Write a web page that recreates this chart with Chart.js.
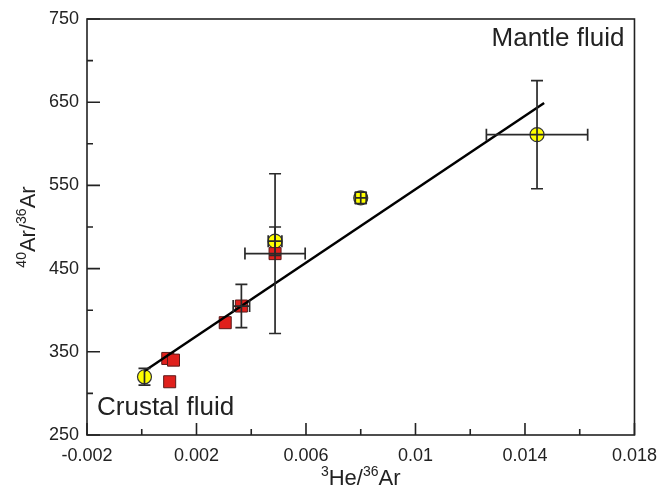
<!DOCTYPE html>
<html>
<head>
<meta charset="utf-8">
<script src="https://cdn.jsdelivr.net/npm/chart.js@4.4.1/dist/chart.umd.min.js"></script>
<style>
  html, body { margin: 0; padding: 0; background: #fff; }
</style>
</head>
<body>
<canvas id="chart" width="667" height="490"></canvas>
<script>
// axis ticks
const xTicks = [-0.002, 0.002, 0.006, 0.01, 0.014, 0.018];
const xMinor = [0, 0.004, 0.008, 0.012, 0.016];
const yTicks = [250, 350, 450, 550, 650, 750];
const yMinor = [300, 400, 500, 600, 700];

// red squares
const crustX = [0.00095, 0.00116, 0.00102, 0.00305, 0.00364, 0.00487];
const crustY = [342, 340, 314, 385, 405, 468];
const crustXErr = [0, 0, 0, 0, 0.0003, 0.0011];
const crustYErr = [0, 0, 0, 0, 26, 96];

// yellow circles
const mantleX = [0.0001, 0.00487, 0.008, 0.01444];
const mantleY = [320, 483, 535, 611];
const mantleXErr = [0, 0.00025, 0.0002, 0.00185];
const mantleYErr = [10, 17, 7, 65];

// fitted line
const fitX = [0.0001, 0.0147];
const fitY = [327, 649];

const FONT = "'Liberation Sans', Arial, sans-serif";

function toPoints(xs, ys) {
  return xs.map((x, i) => ({ x: x, y: ys[i] }));
}

function drawRich(ctx, parts, x, y, size) {
  const supSize = Math.round(size * 0.62);
  let total = 0;
  parts.forEach(p => {
    ctx.font = (p.sup ? supSize : size) + "px " + FONT;
    p.w = ctx.measureText(p.t).width;
    total += p.w;
  });
  let cx = x - total / 2;
  ctx.textAlign = "left";
  ctx.textBaseline = "alphabetic";
  parts.forEach(p => {
    ctx.font = (p.sup ? supSize : size) + "px " + FONT;
    ctx.fillText(p.t, cx, p.sup ? y - size * 0.42 : y);
    cx += p.w;
  });
}

const errorBars = {
  id: "errorBars",
  afterDatasetsDraw(chart) {
    const ctx = chart.ctx;
    const xs = chart.scales.x, ys = chart.scales.y;
    const cap = 6;
    ctx.save();
    ctx.strokeStyle = "#2a2a2a";
    ctx.lineWidth = 1.7;
    const sets = [
      [crustX, crustY, crustXErr, crustYErr],
      [mantleX, mantleY, mantleXErr, mantleYErr]
    ];
    sets.forEach(([X, Y, XE, YE]) => {
      X.forEach((xv, i) => {
        const px = xs.getPixelForValue(xv);
        const py = ys.getPixelForValue(Y[i]);
        if (YE[i] > 0) {
          const t = ys.getPixelForValue(Y[i] + YE[i]);
          const b = ys.getPixelForValue(Y[i] - YE[i]);
          ctx.beginPath();
          ctx.moveTo(px, t); ctx.lineTo(px, b);
          ctx.moveTo(px - cap, t); ctx.lineTo(px + cap, t);
          ctx.moveTo(px - cap, b); ctx.lineTo(px + cap, b);
          ctx.stroke();
        }
        if (XE[i] > 0) {
          const l = xs.getPixelForValue(xv - XE[i]);
          const r = xs.getPixelForValue(xv + XE[i]);
          ctx.beginPath();
          ctx.moveTo(l, py); ctx.lineTo(r, py);
          ctx.moveTo(l, py - cap); ctx.lineTo(l, py + cap);
          ctx.moveTo(r, py - cap); ctx.lineTo(r, py + cap);
          ctx.stroke();
        }
      });
    });
    ctx.restore();
  }
};

const frame = {
  id: "frame",
  afterDraw(chart) {
    const ctx = chart.ctx;
    const a = chart.chartArea;
    const xs = chart.scales.x, ys = chart.scales.y;
    ctx.save();
    ctx.strokeStyle = "#222";
    ctx.lineWidth = 1.6;
    ctx.strokeRect(a.left, a.top, a.right - a.left, a.bottom - a.top);
    ctx.beginPath();
    xTicks.concat(xMinor).forEach(v => {
      const len = xTicks.includes(v) ? 12 : 6;
      const p = xs.getPixelForValue(v);
      ctx.moveTo(p, a.bottom); ctx.lineTo(p, a.bottom - len);
    });
    yTicks.concat(yMinor).forEach(v => {
      const len = yTicks.includes(v) ? 13 : 6;
      const p = ys.getPixelForValue(v);
      ctx.moveTo(a.left, p); ctx.lineTo(a.left + len, p);
    });
    ctx.stroke();

    ctx.fillStyle = "#222";
    // axis titles
    drawRich(ctx, [{ t: "3", sup: true }, { t: "He/" }, { t: "36", sup: true }, { t: "Ar" }],
      (a.left + a.right) / 2, 485, 22);
    ctx.save();
    ctx.translate(35, (a.top + a.bottom) / 2);
    ctx.rotate(-Math.PI / 2);
    drawRich(ctx, [{ t: "40", sup: true }, { t: "Ar/" }, { t: "36", sup: true }, { t: "Ar" }],
      0, 0, 22);
    ctx.restore();

    // annotations
    ctx.font = "26px " + FONT;
    ctx.textBaseline = "middle";
    ctx.textAlign = "right";
    ctx.fillText("Mantle fluid", a.right - 10, 39);
    ctx.textAlign = "left";
    ctx.fillText("Crustal fluid", a.left + 10, 408);
    ctx.restore();
  }
};

new Chart(document.getElementById("chart"), {
  type: "scatter",
  data: {
    datasets: [
      {
        type: "line",
        data: toPoints(fitX, fitY),
        borderColor: "#000",
        borderWidth: 2.5,
        pointRadius: 0,
        fill: false
      },
      {
        data: toPoints(crustX, crustY),
        pointStyle: "rect",
        pointRadius: 8.5,
        backgroundColor: "#e0201c",
        borderColor: "#5a1a1a",
        borderWidth: 1
      },
      {
        data: toPoints(mantleX, mantleY),
        pointStyle: "circle",
        pointRadius: 7,
        backgroundColor: "#ffff00",
        borderColor: "#333",
        borderWidth: 1.2
      }
    ]
  },
  options: {
    responsive: false,
    animation: false,
    layout: { padding: { left: 0, top: 19, right: 30, bottom: 0 } },
    plugins: { legend: { display: false }, tooltip: { enabled: false } },
    scales: {
      x: {
        type: "linear",
        min: -0.002,
        max: 0.018,
        afterBuildTicks: s => { s.ticks = xTicks.map(v => ({ value: v })); },
        afterFit: s => { s.height = 55; },
        grid: { display: false, drawTicks: false },
        border: { display: false },
        ticks: {
          padding: 10,
          color: "#222",
          font: { family: FONT, size: 18 },
          callback: v => String(parseFloat(v.toFixed(4)))
        }
      },
      y: {
        type: "linear",
        min: 250,
        max: 750,
        afterBuildTicks: s => { s.ticks = yTicks.map(v => ({ value: v })); },
        afterFit: s => { s.width = 87; },
        grid: { display: false, drawTicks: false },
        border: { display: false },
        ticks: {
          padding: 8,
          color: "#222",
          font: { family: FONT, size: 18 }
        }
      }
    }
  },
  plugins: [errorBars, frame]
});
</script>
</body>
</html>
